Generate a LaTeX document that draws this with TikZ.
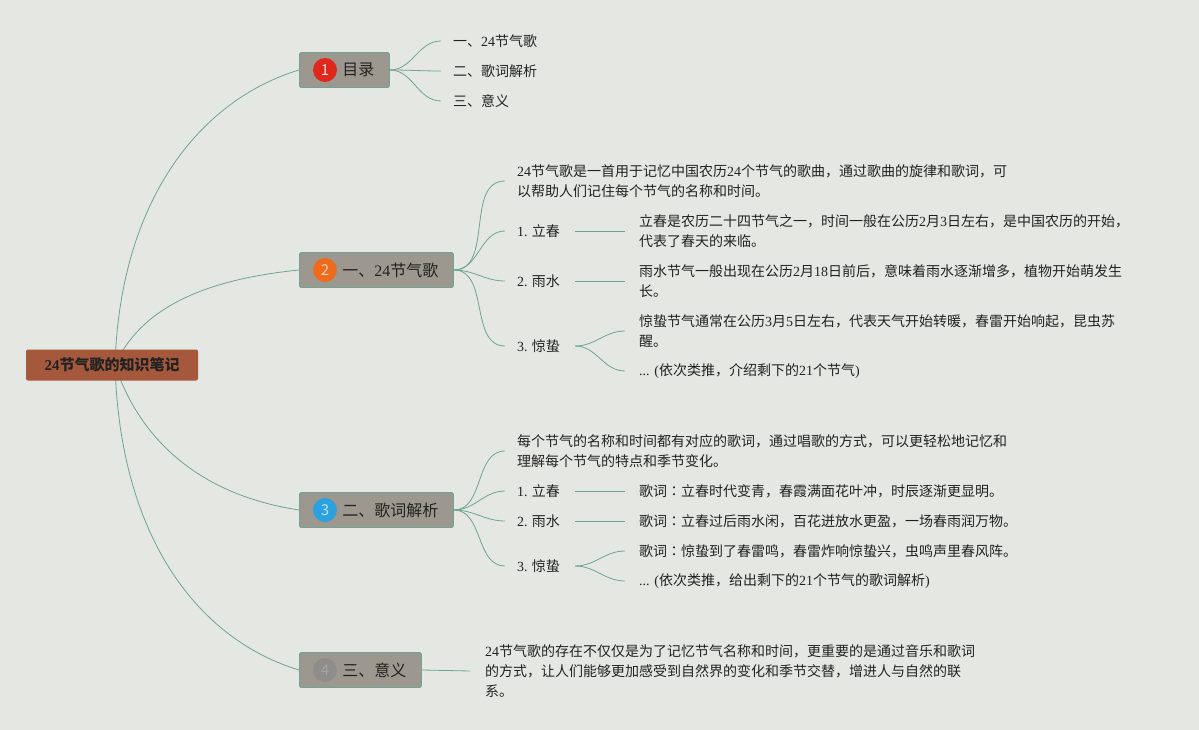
\documentclass[tikz,border=0pt]{standalone}
\usepackage{fontspec}
\setmainfont{Noto Sans CJK SC}
\newfontfamily\latinfont{Liberation Serif}
\newfontfamily\tcfont{Noto Sans CJK TC}
\newcommand{\ltn}[1]{{\latinfont #1}}
\newcommand{\gc}{歌词{\tcfont ：}}
\usetikzlibrary{positioning,backgrounds}

\definecolor{bgcol}{HTML}{E5E7E3}
\definecolor{linkcol}{HTML}{6FA393}
\definecolor{boxcol}{HTML}{9C978F}
\definecolor{rootcol}{HTML}{A5583B}
\definecolor{txtcol}{HTML}{222222}
\definecolor{numred}{HTML}{E1261B}
\definecolor{numorange}{HTML}{EE6A1C}
\definecolor{numblue}{HTML}{2BA1E0}
\definecolor{numgray}{HTML}{8E8D8B}

\tikzset{
    link/.style={draw=linkcol, line width=0.8pt},
    rootbox/.style={fill=rootcol, rounded corners=2pt, minimum width=172pt, minimum height=31pt,
        font=\fontsize{15}{18}\selectfont\bfseries, text=txtcol},
    topic/.style={fill=boxcol, draw=linkcol, line width=0.8pt, rounded corners=2pt, minimum height=35pt,
        inner xsep=15pt, font=\fontsize{16}{20}\selectfont, text=txtcol, anchor=west},
    item/.style={inner xsep=12pt, inner ysep=2pt, align=left, font=\fontsize{14}{20}\selectfont,
        text=txtcol, anchor=west},
    num/.style={circle, minimum size=24pt, inner sep=0pt, font=\fontsize{15}{15}\selectfont},
}

\begin{document}
\begin{tikzpicture}[x=1pt, y=-1pt]
    % root and topics
    \node[rootbox] (root) at (112,365) {\ltn{24}节气歌的知识笔记};
    \node[topic] (t1) at (299,70) {\hspace*{28pt}目录};
    \node[topic] (t2) at (299,270) {\hspace*{28pt}一、\ltn{24}节气歌};
    \node[topic] (t3) at (299,510) {\hspace*{28pt}二、歌词解析};
    \node[topic] (t4) at (299,670) {\hspace*{28pt}三、意义};
    \node[num, fill=numred, text=white!85!numred] (n1) at ([xshift=26pt]t1.west) {1};
    \node[num, fill=numorange, text=white!70!numorange] (n2) at ([xshift=26pt]t2.west) {2};
    \node[num, fill=numblue, text=white!70!numblue] (n3) at ([xshift=26pt]t3.west) {3};
    \node[num, fill=numgray, text=numgray!80!white] (n4) at ([xshift=26pt]t4.west) {4};

    % 目录
    \node[item] (c11) at (441,41) {一、\ltn{24}节气歌};
    \node[item] (c12) at (441,71) {二、歌词解析};
    \node[item] (c13) at (441,101) {三、意义};
    \foreach \c in {c11,c12,c13}
        \draw[link] (t1.east) to[out=0, in=180] (\c.west);

    % 一、24节气歌
    \node[item] (p2) at (505,181) {\ltn{24}节气歌是一首用于记忆中国农历\ltn{24}个节气的歌曲，通过歌曲的旋律和歌词，可\\以帮助人们记住每个节气的名称和时间。};
    \node[item] (s21) at (505,231) {\ltn{1.} 立春};
    \node[item] (s22) at (505,281) {\ltn{2.} 雨水};
    \node[item] (s23) at (505,346) {\ltn{3.} 惊蛰};
    \foreach \c in {p2,s21,s22,s23}
        \draw[link] (t2.east) to[out=0, in=180] (\c.west);
    \node[item, inner xsep=14pt] (d21) at (625,231) {立春是农历二十四节气之一，时间一般在公历\ltn{2}月\ltn{3}日左右，是中国农历的开始，\\代表了春天的来临。};
    \node[item, inner xsep=14pt] (d22) at (625,281) {雨水节气一般出现在公历\ltn{2}月\ltn{18}日前后，意味着雨水逐渐增多，植物开始萌发生\\长。};
    \node[item, inner xsep=14pt] (d23) at (625,331) {惊蛰节气通常在公历\ltn{3}月\ltn{5}日左右，代表天气开始转暖，春雷开始响起，昆虫苏\\醒。};
    \node[item, inner xsep=14pt] (d24) at (625,371) {\ltn{... (}依次类推，介绍剩下的\ltn{21}个节气\ltn{)}};
    \draw[link] ([xshift=3pt]s21.east) -- (d21.west);
    \draw[link] ([xshift=3pt]s22.east) -- (d22.west);
    \draw[link] ([xshift=3pt]s23.east) to[out=0, in=180] (d23.west);
    \draw[link] ([xshift=3pt]s23.east) to[out=0, in=180] (d24.west);

    % 二、歌词解析
    \node[item] (p3) at (505,451) {每个节气的名称和时间都有对应的歌词，通过唱歌的方式，可以更轻松地记忆和\\理解每个节气的特点和季节变化。};
    \node[item] (s31) at (505,491) {\ltn{1.} 立春};
    \node[item] (s32) at (505,521) {\ltn{2.} 雨水};
    \node[item] (s33) at (505,566) {\ltn{3.} 惊蛰};
    \foreach \c in {p3,s31,s32,s33}
        \draw[link] (t3.east) to[out=0, in=180] (\c.west);
    \node[item, inner xsep=14pt] (d31) at (625,491) {\gc 立春时代变青，春霞满面花叶冲，时辰逐渐更显明。};
    \node[item, inner xsep=14pt] (d32) at (625,521) {\gc 立春过后雨水闲，百花迸放水更盈，一场春雨润万物。};
    \node[item, inner xsep=14pt] (d33) at (625,551) {\gc 惊蛰到了春雷鸣，春雷炸响惊蛰兴，虫鸣声里春风阵。};
    \node[item, inner xsep=14pt] (d34) at (625,581) {\ltn{... (}依次类推，给出剩下的\ltn{21}个节气的歌词解析\ltn{)}};
    \draw[link] ([xshift=3pt]s31.east) -- (d31.west);
    \draw[link] ([xshift=3pt]s32.east) -- (d32.west);
    \draw[link] ([xshift=3pt]s33.east) to[out=0, in=180] (d33.west);
    \draw[link] ([xshift=3pt]s33.east) to[out=0, in=180] (d34.west);

    % 三、意义
    \node[item, inner xsep=15pt] (p4) at (470,671) {\ltn{24}节气歌的存在不仅仅是为了记忆节气名称和时间，更重要的是通过音乐和歌词\\的方式，让人们能够更加感受到自然界的变化和季节交替，增进人与自然的联\\系。};
    \draw[link] (t4.east) -- (p4.west);

    % background and main branches
    \begin{scope}[on background layer]
        \fill[bgcol] (0,0) rectangle (1199,730);
        \coordinate (r) at ([xshift=3pt]root.center);
        \draw[link] (r) .. controls (120,200) and (200,100) .. (t1.west);
        \draw[link] (r) .. controls (140,310) and (200,280) .. (t2.west);
        \draw[link] (r) .. controls (140,440) and (200,495) .. (t3.west);
        \draw[link] (r) .. controls (120,540) and (200,640) .. (t4.west);
    \end{scope}
\end{tikzpicture}
\end{document}
